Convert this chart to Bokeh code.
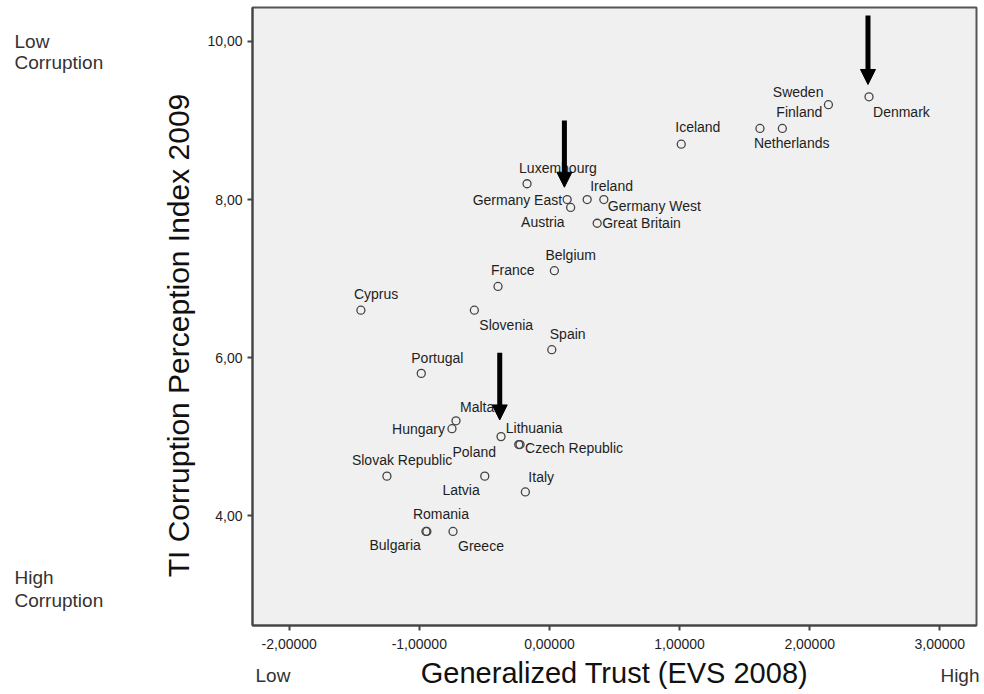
import math
from bokeh.plotting import figure
from bokeh.layouts import row, column
from bokeh.models import ColumnDataSource, FixedTicker, Arrow, NormalHead
from bokeh.core.properties import value
from bokeh.embed import file_html
from bokeh.resources import INLINE

# ---- data ----
countries = ["Denmark", "Sweden", "Finland", "Netherlands", "Iceland", "Luxembourg",
             "Germany East", "Austria", "Ireland", "Germany West", "Great Britain",
             "Belgium", "France", "Cyprus", "Slovenia", "Spain", "Portugal", "Malta",
             "Hungary", "Poland", "Lithuania", "Czech Republic", "Slovak Republic",
             "Latvia", "Italy", "Romania", "Bulgaria", "Greece"]
trust = [2.456, 2.144, 1.790, 1.618, 1.013, -0.172,
         0.136, 0.163, 0.290, 0.418, 0.367,
         0.038, -0.395, -1.449, -0.577, 0.018, -0.985, -0.718,
         -0.749, -0.372, -0.236, -0.226, -1.249,
         -0.497, -0.185, -0.949, -0.942, -0.741]
cpi = [9.3, 9.2, 8.9, 8.9, 8.7, 8.2,
       8.0, 7.9, 8.0, 8.0, 7.7,
       7.1, 6.9, 6.6, 6.6, 6.1, 5.8, 5.2,
       5.1, 5.0, 4.9, 4.9, 4.5,
       4.5, 4.3, 3.8, 3.8, 3.8]

x_ticks = [-2, -1, 0, 1, 2, 3]
x_tick_labels = ["-2,00000", "-1,00000", "0,00000", "1,00000", "2,00000", "3,00000"]
y_ticks = [4, 6, 8, 10]
y_tick_labels = ["4,00", "6,00", "8,00", "10,00"]

x_title = "Generalized Trust (EVS 2008)"
y_title = "TI Corruption Perception Index 2009"
y_end_labels = ["Low", "Corruption", "High", "Corruption"]
x_end_labels = ["Low", "High"]

# highlighted cases (arrows): Denmark, Germany East, Poland
arrow_x = [2.448, 0.115, -0.382]
arrow_y_start = [10.33, 9.00, 6.06]
arrow_y_end = [9.456, 8.156, 5.211]

# label placement (pixel offsets from the point, screen y downwards)
label_dx = [4, -5, -6, -6, -6, -8,
            -5, -6, 3, 4, 5,
            -9, -7, -7, 5, -2, -10, 4,
            -7, -5, -13, 5, -35,
            -5, 3, -13, -6, 5]
label_dy = [15, -13, -16, 15, -17, -16,
            0, 15, -14, 6, 0,
            -16, -16, -16, 15, -16, -15, -14,
            0, 15, -17, 3, -16,
            14, -15, -17, 14, 15]
label_align = ["left", "right", "left", "left", "left", "left",
               "right", "right", "left", "left", "left",
               "left", "left", "left", "left", "left", "left", "left",
               "right", "right", "left", "left", "left",
               "right", "left", "left", "right", "left"]

FONT = "Liberation Sans"
LEFT_W, MAIN_W, TOP_H, BOTTOM_H = 200, 780, 655, 36
FRAME_TOP, FRAME_BOTTOM = 7, 625

src = ColumnDataSource(dict(x=trust, y=cpi, name=countries, dx=label_dx,
                            dy=label_dy, align=label_align))

p = figure(width=MAIN_W, height=TOP_H, output_backend="svg", toolbar_location=None,
           x_range=(-2.282, 3.282), y_range=(2.61, 10.43),
           min_border_left=252 - LEFT_W, min_border_right=4,
           min_border_top=FRAME_TOP, min_border_bottom=TOP_H - FRAME_BOTTOM)

p.background_fill_color = "#f0f0f0"
p.border_fill_color = "white"
p.outline_line_color = "#555555"
p.outline_line_width = 2
p.grid.visible = False

p.scatter("x", "y", source=src, marker="circle", size=8, fill_color=None,
          line_color="#444444", line_width=1.3)

p.text("x", "y", text="name", source=src, x_offset="dx", y_offset="dy",
       text_align="align", text_baseline="middle", text_font=value(FONT),
       text_font_size="14px", text_color="#1e1e1e")

for xa, ys, ye in zip(arrow_x, arrow_y_start, arrow_y_end):
    p.add_layout(Arrow(x_start=xa, y_start=ys, x_end=xa, y_end=ye,
                       line_width=5, line_color="black",
                       end=NormalHead(size=15, fill_color="black",
                                      line_color="black", line_width=1)))

for ax in (p.xaxis[0], p.yaxis[0]):
    ax.axis_line_color = "#444444"
    ax.axis_line_width = 2
    ax.major_tick_line_color = "#444444"
    ax.major_tick_line_width = 2
    ax.major_tick_in = 0
    ax.major_tick_out = 5
    ax.minor_tick_line_color = None
    ax.major_label_text_font = FONT
    ax.major_label_text_font_size = "14px"
    ax.major_label_text_color = "#1e1e1e"

p.xaxis.ticker = FixedTicker(ticks=x_ticks)
p.xaxis.major_label_overrides = dict(zip(x_ticks, x_tick_labels))
p.xaxis.major_label_standoff = 8

p.yaxis.ticker = FixedTicker(ticks=y_ticks)
p.yaxis.major_label_overrides = dict(zip(y_ticks, y_tick_labels))
p.yaxis.major_label_standoff = 5


def strip(w, h, y0, y1):
    f = figure(width=w, height=h, output_backend="svg", toolbar_location=None,
               x_range=(0, w), y_range=(y0, y1), min_border=0,
               x_axis_location=None, y_axis_location=None)
    f.outline_line_color = None
    f.grid.visible = False
    f.background_fill_color = "white"
    f.border_fill_color = "white"
    return f


# left strip (its frame is aligned with the main frame; y in page pixels)
left = strip(LEFT_W, TOP_H, FRAME_BOTTOM, FRAME_TOP)
left.text(x=[14, 14, 14, 14], y=[41, 62, 577, 600], text=y_end_labels,
          text_align="left", text_baseline="middle", text_font=value(FONT),
          text_font_size="19px", text_color="#333333")
left.text(x=[178], y=[335], text=[y_title], angle=math.pi / 2,
          text_align="center", text_baseline="middle", text_font=value(FONT),
          text_font_size="30px", text_color="#111111")

# bottom strip: x-axis title with "Low" / "High"
bottom = strip(LEFT_W + MAIN_W, BOTTOM_H, BOTTOM_H, 0)
bottom.text(x=[614], y=[17], text=[x_title], text_align="center",
            text_baseline="middle", text_font=value(FONT),
            text_font_size="29px", text_color="#111111")
bottom.text(x=[255, 979], y=[20, 20], text=x_end_labels,
            text_align=["left", "right"], text_baseline="middle",
            text_font=value(FONT), text_font_size="19px", text_color="#333333")

layout = column(row(left, p), bottom)
open("out.html", "w").write(file_html(layout, INLINE))
